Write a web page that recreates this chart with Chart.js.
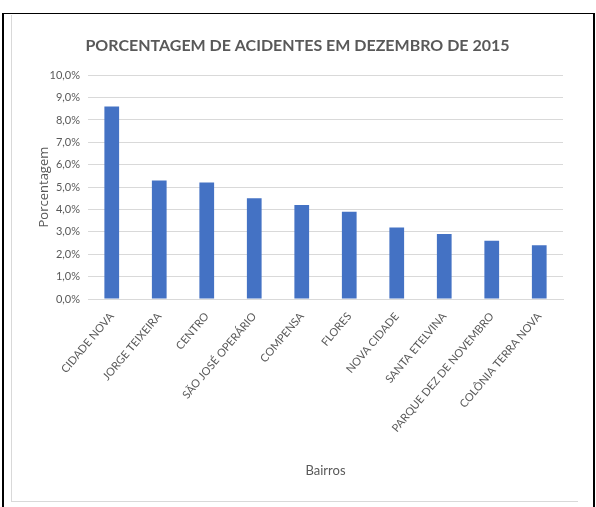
<!DOCTYPE html>
<html>
<head>
<meta charset="utf-8">
<script src="https://cdn.jsdelivr.net/npm/chart.js"></script>
<style>
    html, body { margin: 0; padding: 0; background: #fff; }
    #frame {
        position: absolute; left: 2px; top: 13px; width: 589px; height: 494px;
        border-left: 2px solid #000; border-top: 1px solid #000; border-right: 2px solid #000;
    }
    #box {
        position: absolute; left: 11px; top: 15px; width: 566px; height: 486px;
        border-left: 1px solid #d9d9d9; border-bottom: 1px solid #d9d9d9;
    }
    #box canvas { display: block; }
</style>
</head>
<body>
<div id="frame"></div>
<div id="box"><canvas id="chart" width="566" height="486"></canvas></div>
<script>
const bairros = ['CIDADE NOVA', 'JORGE TEIXEIRA', 'CENTRO', 'SÃO JOSÉ OPERÁRIO', 'COMPENSA',
    'FLORES', 'NOVA CIDADE', 'SANTA ETELVINA', 'PARQUE DEZ DE NOVEMBRO', 'COLÔNIA TERRA NOVA']
const porcentagem = [8.6, 5.3, 5.2, 4.5, 4.2, 3.9, 3.2, 2.9, 2.6, 2.4]
const yTicks = [0, 1, 2, 3, 4, 5, 6, 7, 8, 9, 10]

const fam = "'Lato', sans-serif"
const grey = '#595959'

Chart.defaults.font.family = fam
Chart.defaults.color = grey

new Chart(document.getElementById('chart'), {
    type: 'bar',
    data: {
        labels: bairros,
        datasets: [{
            label: 'Porcentagem',
            data: porcentagem,
            backgroundColor: '#4472c4',
            barPercentage: 0.31,
            categoryPercentage: 1,
        }],
    },
    options: {
        responsive: false,
        animation: false,
        layout: { padding: { left: 20, right: 15, bottom: 18, top: 0 } },
        plugins: {
            legend: { display: false },
            tooltip: { enabled: false },
            title: {
                display: true,
                text: 'PORCENTAGEM DE ACIDENTES EM DEZEMBRO DE 2015',
                color: grey,
                font: { size: 16, weight: 'bold' },
                padding: { top: 21, bottom: 20 },
            },
        },
        scales: {
            x: {
                grid: { display: false },
                border: { color: '#d9d9d9' },
                ticks: { minRotation: 50, maxRotation: 50, font: { size: 11 }, padding: 3 },
                title: { display: true, text: 'Bairros', font: { size: 13 }, padding: { top: 4, bottom: 4 } },
                afterFit: (s) => { s.height = 184 },
            },
            y: {
                min: 0,
                max: 10,
                afterBuildTicks: (s) => { s.ticks = yTicks.map(v => ({ value: v })) },
                grid: { color: '#d9d9d9', drawTicks: false },
                border: { display: false },
                ticks: {
                    padding: 8,
                    font: { size: 11 },
                    callback: (v) => v.toFixed(1).replace('.', ',') + '%',
                },
                title: { display: true, text: 'Porcentagem', font: { family: "'Open Sans', sans-serif", size: 13 }, padding: { top: 4, bottom: 4 } },
                afterFit: (s) => { s.width = 56 },
            },
        },
    },
})
</script>
</body>
</html>
